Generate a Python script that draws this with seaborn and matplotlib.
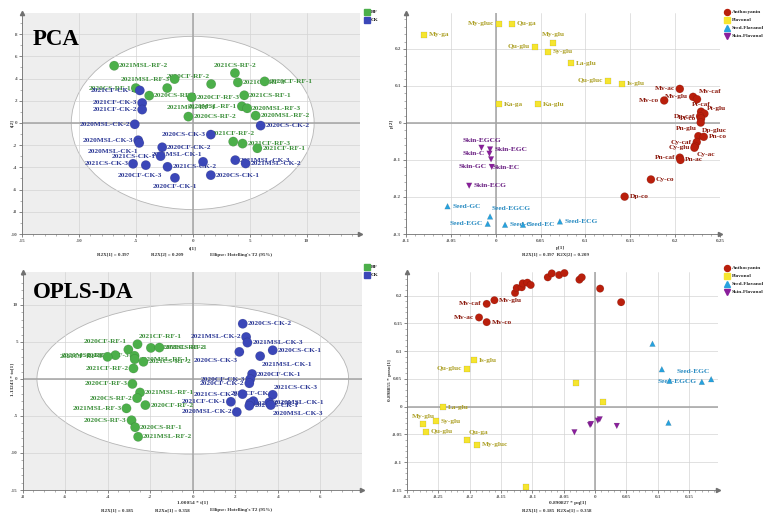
import numpy as np
import pandas as pd
import matplotlib
matplotlib.use("Agg")
import matplotlib.pyplot as plt
import seaborn as sns
from matplotlib.patches import Ellipse
from matplotlib.lines import Line2D
from matplotlib.ticker import MultipleLocator, FuncFormatter

# ======================= DATA =======================
# --- PCA scores (top-left) ---
pca_rf_names = ["2021MSL-RF-2", "2021CS-RF-2", "2021MSL-RF-3", "2020CF-RF-2", "2021CS-RF-3",
                "2020CF-RF-1", "2020CS-RF-1", "2021MSL-RF-1", "2020CS-RF-3", "2020CF-RF-3",
                "2021CS-RF-1", "2020MSL-RF-1", "2020MSL-RF-3", "2020MSL-RF-2", "2020CS-RF-2",
                "2021CF-RF-2", "2021CF-RF-3", "2021CF-RF-1"]
pca_rf_t1 = [-6.90, 3.71, -1.59, 1.62, 3.97, 6.32, -5.00, -2.24, -3.82, -0.09,
             4.53, 4.32, 4.79, 5.53, -0.38, 3.56, 4.38, 5.68]
pca_rf_t2 = [5.15, 4.49, 3.95, 3.50, 3.65, 3.74, 3.14, 3.14, 2.46, 2.31,
             2.49, 1.50, 1.32, 0.66, 0.57, -1.68, -1.86, -2.28]

pca_ck_names = ["2021CF-CK-1", "2021CF-CK-3", "2021CF-CK-2", "2020MSL-CK-2", "2020CS-CK-2",
                "2020CS-CK-3", "2020MSL-CK-3", "2020MSL-CK-1", "2020CF-CK-2", "2021CS-CK-1",
                "2021CS-CK-3", "2020CF-CK-3", "2021CS-CK-2", "2021MSL-CK-1", "2021MSL-CK-3",
                "2021MSL-CK-2", "2020CS-CK-1", "2020CF-CK-1"]
pca_ck_t1 = [-4.65, -4.44, -4.44, -5.09, 5.97, 1.59, -4.79, -4.70, -2.68, -2.82,
             -5.24, -4.12, -2.21, 0.91, 3.74, 4.65, 1.59, -1.56]
pca_ck_t2 = [2.93, 1.80, 1.20, -0.12, -0.24, -1.05, -1.56, -1.80, -2.19, -2.99,
             -3.68, -3.80, -3.95, -3.50, -3.35, -3.65, -4.70, -4.94]

# --- PCA loadings (top-right) ---
pca_anth_names = ["Mv-ac", "Mv-glu", "Mv-caf", "Mv-co", "Pt-caf", "Pt-glu", "Dp-caf", "Pt-co",
                  "Dp-gluc", "Pn-glu", "Pn-co", "Cy-caf", "Cy-ac", "Cy-glu", "Pn-caf", "Pn-ac",
                  "Cy-co", "Dp-co"]
pca_anth_p1 = [0.2052, 0.2200, 0.2244, 0.1878, 0.2289, 0.2326, 0.2278, 0.2289,
               0.2285, 0.2259, 0.2319, 0.2241, 0.2222, 0.2215, 0.2052, 0.2059,
               0.1730, 0.1437]
pca_anth_p2 = [0.0920, 0.0705, 0.0640, 0.0607, 0.0304, 0.0250, 0.0178, 0.0116,
               0.0010, -0.0357, -0.0375, -0.0518, -0.0625, -0.0670, -0.0938, -0.1000,
               -0.1527, -0.1991]

pca_flav_names = ["My-ga", "My-gluc", "Qu-ga", "My-glu", "Qu-glu", "Sy-glu", "La-glu",
                  "Qu-gluc", "Is-glu", "Ka-ga", "Ka-glu"]
pca_flav_p1 = [-0.0796, 0.0041, 0.0178, 0.0641, 0.0433, 0.0585, 0.0844, 0.1252, 0.1411, 0.0041, 0.0474]
pca_flav_p2 = [0.2384, 0.2679, 0.2679, 0.2170, 0.2063, 0.1920, 0.1607, 0.1134, 0.1063, 0.0509, 0.0509]

pca_seed_names = ["Seed-GC", "Seed-EGCG", "Seed-EGC", "Seed-C", "Seed-EC", "Seed-ECG"]
pca_seed_p1 = [-0.0537, -0.0063, -0.0089, 0.0104, 0.0304, 0.0715]
pca_seed_p2 = [-0.2250, -0.2527, -0.2723, -0.2750, -0.2750, -0.2661]

pca_skin_names = ["Skin-EGCG", "Skin-EGC", "Skin-C", "Skin-EC", "Skin-GC", "Skin-ECG"]
pca_skin_p1 = [-0.0159, -0.0063, -0.0070, -0.0052, -0.0044, -0.0296]
pca_skin_p2 = [-0.0670, -0.0714, -0.0830, -0.0982, -0.1187, -0.1696]

# --- OPLS-DA scores (bottom-left) ---
opls_rf_names = ["2021CF-RF-1", "2020CF-RF-1", "2020MSL-RF-2", "2021CS-RF-1", "2020MSL-RF-3",
                 "2021CF-RF-3", "2021CS-RF-3", "2020MSL-RF-1", "2021CS-RF-2", "2021CF-RF-2",
                 "2020CF-RF-3", "2021MSL-RF-1", "2020CS-RF-2", "2020CF-RF-2", "2021MSL-RF-3",
                 "2020CS-RF-3", "2020CS-RF-1", "2021MSL-RF-2"]
opls_rf_t1 = [-2.60, -3.03, -1.97, -1.57, -3.64, -4.01, -2.74, -2.73, -2.32, -2.79,
              -2.84, -2.48, -2.62, -2.23, -3.12, -2.88, -2.71, -2.57]
opls_rf_to = [4.69, 3.97, 4.20, 4.24, 3.21, 2.99, 3.13, 2.68, 2.32, 1.43,
              -0.67, -1.83, -2.59, -3.53, -3.97, -5.58, -6.52, -7.81]

opls_ck_names = ["2020CS-CK-2", "2021MSL-CK-2", "2021MSL-CK-3", "2020CS-CK-1", "2020CS-CK-3",
                 "2021MSL-CK-1", "2020CF-CK-1", "2020CF-CK-3", "2020CF-CK-2", "2021CS-CK-3",
                 "2021CS-CK-2", "2021CF-CK-2", "2021CF-CK-3", "2021CF-CK-1", "2020MSL-CK-2",
                 "2021CS-CK-1", "2020MSL-CK-1", "2020MSL-CK-3"]
opls_ck_t1 = [2.35, 2.51, 2.57, 3.76, 2.19, 3.17, 2.79, 2.70, 2.66, 3.76,
              2.34, 2.85, 2.70, 1.79, 2.07, 2.66, 3.60, 3.67]
opls_ck_to = [7.46, 5.67, 4.91, 3.88, 3.66, 3.08, 0.67, -0.04, -0.58, -2.14,
              -2.05, -2.99, -3.26, -3.08, -4.46, -3.62, -3.17, -3.53]

# --- OPLS-DA loadings (bottom-right) ---
opls_anth_names = ["Mv-caf", "Mv-glu", "Mv-ac", "Mv-co", "Pt-caf", "Pt-glu", "Dp-caf", "Pt-co",
                   "Dp-gluc", "Pn-glu", "Pn-co", "Cy-caf", "Cy-ac", "Cy-glu", "Pn-caf", "Pn-ac",
                   "Cy-co", "Dp-co"]
opls_anth_pq = [-0.1729, -0.1606, -0.1851, -0.1729, -0.1277, -0.1250, -0.1170, -0.1154,
                -0.1080, -0.1027, -0.0755, -0.0691, -0.0574, -0.0489, -0.0250, -0.0213,
                0.0080, 0.0415]
opls_anth_po = [0.1852, 0.1918, 0.1607, 0.1523, 0.2049, 0.2139, 0.2151, 0.2222,
                0.2234, 0.2192, 0.2330, 0.2401, 0.2372, 0.2407, 0.2288, 0.2330,
                0.2127, 0.1882]

opls_flav_names = ["Is-glu", "Qu-gluc", "La-glu", "My-glu", "Sy-glu", "Qu-glu", "Qu-ga",
                   "My-gluc", "My-ga", "Ka-ga", "Ka-glu"]
opls_flav_pq = [-0.1936, -0.2048, -0.2426, -0.2745, -0.2537, -0.2697, -0.2037, -0.1883,
                -0.0303, 0.0128, -0.1101]
opls_flav_po = [0.0836, 0.0687, -0.0012, -0.0311, -0.0263, -0.0454, -0.0597, -0.0687,
                0.0430, 0.0078, -0.1440]

opls_seed_names = ["Seed-GC", "Seed-C", "Seed-EC", "Seed-EGCG", "Seed-EGC", "Seed-ECG"]
opls_seed_pq = [0.0915, 0.1064, 0.1186, 0.1702, 0.1851, 0.1170]
opls_seed_po = [0.1135, 0.0675, 0.0466, 0.0448, 0.0496, -0.0287]

opls_skin_names = ["Skin-ECG", "Skin-C", "Skin-EGC", "Skin-EC", "Skin-GC", "Skin-EGCG"]
opls_skin_pq = [-0.0330, -0.0080, -0.0064, 0.0043, 0.0074, 0.0346]
opls_skin_po = [-0.0460, -0.0329, -0.0311, -0.0251, -0.0227, -0.0346]

classes = ["Anthocyanin", "Flavonol", "Seed-Flavanol", "Skin-Flavanol"]
groups = ["RF", "CK"]

# ======================= STYLE / LAYOUT =======================
# label placement codes (layout only)
pca_score_lab = {
    "2021MSL-RF-2": "r", "2021CS-RF-2": "a", "2021MSL-RF-3": "l", "2020CF-RF-2": "al",
    "2021CS-RF-3": "r", "2020CF-RF-1": "r", "2020CS-RF-1": "l", "2021MSL-RF-1": (17, -14, "center"),
    "2020CS-RF-3": "r", "2020CF-RF-3": "r", "2021CS-RF-1": "r", "2020MSL-RF-1": "l",
    "2020MSL-RF-3": "r", "2020MSL-RF-2": "r", "2020CS-RF-2": "r", "2021CF-RF-2": "a",
    "2021CF-RF-3": "r", "2021CF-RF-1": "r",
    "2021CF-CK-1": "l", "2021CF-CK-3": "l", "2021CF-CK-2": "l", "2020MSL-CK-2": "l",
    "2020CS-CK-2": "r", "2020CS-CK-3": "l", "2020MSL-CK-3": "l", "2020MSL-CK-1": "bl",
    "2020CF-CK-2": "r", "2021CS-CK-1": "l", "2021CS-CK-3": "l", "2020CF-CK-3": (12, -7.5, "right"),
    "2021CS-CK-2": "r", "2021MSL-CK-1": "al", "2021MSL-CK-3": "r", "2021MSL-CK-2": "r",
    "2020CS-CK-1": "r", "2020CF-CK-1": "b",
}
pca_load_lab = {
    "Mv-ac": "l", "Mv-glu": "l", "Mv-caf": "ar", "Mv-co": "l", "Pt-caf": "a", "Pt-glu": (2, 4, "left"),
    "Dp-caf": "l", "Pt-co": "l", "Dp-gluc": "br", "Pn-glu": "al", "Pn-co": "r", "Cy-caf": "l",
    "Cy-ac": "br", "Cy-glu": "l", "Pn-caf": "l", "Pn-ac": "r", "Cy-co": "r", "Dp-co": "r",
    "My-ga": "r", "My-gluc": "l", "Qu-ga": "r", "My-glu": "a", "Qu-glu": "l", "Sy-glu": "r",
    "La-glu": "r", "Qu-gluc": "l", "Is-glu": "r", "Ka-ga": "r", "Ka-glu": "r",
    "Seed-GC": "r", "Seed-EGCG": "ar", "Seed-EGC": "l", "Seed-C": "r", "Seed-EC": "r", "Seed-ECG": "r",
    "Skin-EGCG": "a", "Skin-EGC": "r", "Skin-C": "l", "Skin-EC": "br", "Skin-GC": "l", "Skin-ECG": "r",
}
opls_score_lab = {
    "2021CF-RF-1": "ar", "2020CF-RF-1": "al", "2020MSL-RF-2": "r", "2021CS-RF-1": "r",
    "2020MSL-RF-3": "l", "2021CF-RF-3": "l", "2021CS-RF-3": "l", "2020MSL-RF-1": "r",
    "2021CS-RF-2": "r", "2021CF-RF-2": "l", "2020CF-RF-3": "l", "2021MSL-RF-1": "r",
    "2020CS-RF-2": "l", "2020CF-RF-2": "r", "2021MSL-RF-3": "l", "2020CS-RF-3": "l",
    "2020CS-RF-1": "r", "2021MSL-RF-2": "r",
    "2020CS-CK-2": "r", "2021MSL-CK-2": "l", "2021MSL-CK-3": "r", "2020CS-CK-1": "r",
    "2020CS-CK-3": "bl", "2021MSL-CK-1": "br", "2020CF-CK-1": "r", "2020CF-CK-3": "l",
    "2020CF-CK-2": "l", "2021CS-CK-3": "ar", "2021CS-CK-2": "l", "2021CF-CK-2": "a",
    "2021CF-CK-3": "r", "2021CF-CK-1": "l", "2020MSL-CK-2": "l", "2021CS-CK-1": "r",
    "2020MSL-CK-1": "r", "2020MSL-CK-3": "br",
}
opls_load_lab = {
    "Mv-caf": "l", "Mv-glu": "r", "Mv-ac": "l", "Mv-co": "r",
    "Is-glu": "r", "Qu-gluc": "l", "La-glu": "r", "My-glu": "a", "Sy-glu": "r",
    "Qu-glu": "r", "Qu-ga": "ar", "My-gluc": "r",
    "Seed-EGCG": "l", "Seed-EGC": "al",
}

OFF = {"r": (3.5, 0, "left"), "l": (-3.5, 0, "right"), "a": (0, 5.5, "center"),
       "b": (0, -6, "center"), "ar": (1, 5.5, "left"), "al": (-1, 5.5, "right"),
       "br": (1, -6, "left"), "bl": (-1, -6, "right")}

GROUP_COL = {"RF": "#4caf4a", "CK": "#3b47b8"}
GROUP_TXT = {"RF": "#3c8f3a", "CK": "#2e3a96"}
CLS_COL = {"Anthocyanin": "#b91f0c", "Flavonol": "#f6e52f",
           "Seed-Flavanol": "#27a2de", "Skin-Flavanol": "#8a1e9c"}
CLS_TXT = {"Anthocyanin": "#8c1a0e", "Flavonol": "#aea22a",
           "Seed-Flavanol": "#2a8cc2", "Skin-Flavanol": "#6a1f82"}
CLS_MARK = {"Anthocyanin": "o", "Flavonol": "s", "Seed-Flavanol": "^", "Skin-Flavanol": "v"}

sns.set_theme(style="white")
plt.rcParams["font.family"] = ["Liberation Serif", "DejaVu Serif"]
plt.rcParams["font.weight"] = "bold"

W, H = 770, 519
fig = plt.figure(figsize=(W / 100, H / 100), dpi=100)
fig.patch.set_facecolor("white")


def rect(l, t, r, b):
    return [l / W, 1 - b / H, (r - l) / W, (b - t) / H]


def fx(x):
    return x / W


def fy(y):
    return 1 - y / H


def style_axes(ax, xlim, ylim, xmaj, ymaj, xmin, ymin, bg):
    ax.set_xlim(*xlim)
    ax.set_ylim(*ylim)
    ax.set_facecolor(bg)
    ax.xaxis.set_major_locator(MultipleLocator(xmaj))
    ax.yaxis.set_major_locator(MultipleLocator(ymaj))
    ax.xaxis.set_minor_locator(MultipleLocator(xmin))
    ax.yaxis.set_minor_locator(MultipleLocator(ymin))
    fmt = FuncFormatter(lambda v, p: "0" if abs(v) < 1e-9 else f"{v:g}")
    ax.xaxis.set_major_formatter(fmt)
    ax.yaxis.set_major_formatter(fmt)
    ax.grid(True, which="major", color="#d4d4d4", lw=0.5)
    ax.set_axisbelow(True)
    for s in ["top", "right"]:
        ax.spines[s].set_visible(False)
    for s in ["left", "bottom"]:
        ax.spines[s].set_color("#707070")
        ax.spines[s].set_linewidth(0.6)
    ax.tick_params(which="major", length=2, width=0.5, labelsize=3.6, pad=1.5,
                   colors="#555555", left=True, bottom=True)
    ax.tick_params(which="minor", length=1.1, width=0.4, colors="#777777", left=True, bottom=True)
    ax.axhline(0, color="#a3a3a3", lw=1.1, zorder=0.8)
    ax.axvline(0, color="#a3a3a3", lw=1.1, zorder=0.8)
    ax.plot(1, 0, marker=">", ms=3, color="#707070", transform=ax.transAxes, clip_on=False)
    ax.plot(0, 1, marker="^", ms=3, color="#707070", transform=ax.transAxes, clip_on=False)
    ax.set_xlabel("")
    ax.set_ylabel("")


def put_labels(ax, df, labmap, txtcol, key, fs):
    for _, row in df.iterrows():
        code = labmap.get(row["name"])
        if code is None:
            continue
        dx, dy, ha = OFF[code] if isinstance(code, str) else code
        ax.annotate(row["name"], (row["x"], row["y"]), xytext=(dx, dy),
                    textcoords="offset points", ha=ha, va="center", fontsize=fs,
                    color=txtcol[row[key]], fontweight="bold", zorder=2.5,
                    annotation_clip=False)


def score_df(rf_n, rf_x, rf_y, ck_n, ck_x, ck_y):
    return pd.DataFrame({"name": rf_n + ck_n, "x": rf_x + ck_x, "y": rf_y + ck_y,
                         "group": ["RF"] * len(rf_n) + ["CK"] * len(ck_n)})


def load_df(parts):
    frames = []
    for cls, (n, x, y) in zip(classes, parts):
        frames.append(pd.DataFrame({"name": n, "x": x, "y": y, "cls": [cls] * len(n)}))
    return pd.concat(frames, ignore_index=True)


def score_panel(r, df, xlim, ylim, xmaj, ymaj, xmin, ymin, ell, labmap, s):
    ax = fig.add_axes(r)
    style_axes(ax, xlim, ylim, xmaj, ymaj, xmin, ymin, "#eeeeee")
    ax.add_patch(Ellipse((0, 0), 2 * ell[0], 2 * ell[1], facecolor="white",
                         edgecolor="#b5b5b5", lw=0.6, zorder=0.3))
    sns.scatterplot(data=df, x="x", y="y", hue="group", palette=GROUP_COL, s=s,
                    edgecolor=(0, 0, 0, 0.2), linewidth=0.3, legend=False, ax=ax, zorder=3)
    put_labels(ax, df, labmap, GROUP_TXT, "group", 5.3)
    ax.set_xlabel("")
    ax.set_ylabel("")
    return ax


def load_panel(r, df, xlim, ylim, xmaj, ymaj, xmin, ymin, labmap, sizes):
    ax = fig.add_axes(r)
    style_axes(ax, xlim, ylim, xmaj, ymaj, xmin, ymin, "white")
    sns.scatterplot(data=df, x="x", y="y", hue="cls", style="cls", size="cls",
                    palette=CLS_COL, markers=CLS_MARK, sizes=sizes,
                    edgecolor=(0, 0, 0, 0.2), linewidth=0.3, legend=False, ax=ax, zorder=3)
    for c in ax.collections:
        c.set_clip_on(False)
    put_labels(ax, df, labmap, CLS_TXT, "cls", 5.3)
    ax.set_xlabel("")
    ax.set_ylabel("")
    return ax


def group_legend(x, y0):
    for i, g in enumerate(groups):
        yy = y0 + i * 8
        fig.add_artist(Line2D([fx(x)], [fy(yy)], marker="s", ms=4.2, color=GROUP_COL[g],
                              linestyle="none", transform=fig.transFigure))
        fig.text(fx(x + 4), fy(yy), g, fontsize=3.8, va="center", ha="left", color="#222222")


def class_legend(x, y0):
    for i, c in enumerate(classes):
        yy = y0 + i * 8
        fig.add_artist(Line2D([fx(x)], [fy(yy)], marker=CLS_MARK[c], ms=4.3, color=CLS_COL[c],
                              linestyle="none", transform=fig.transFigure))
        fig.text(fx(x + 4.5), fy(yy), c, fontsize=3.8, va="center", ha="left", color="#222222")


# ---------------- top-left: PCA scores ----------------
df_ps = score_df(pca_rf_names, pca_rf_t1, pca_rf_t2, pca_ck_names, pca_ck_t1, pca_ck_t2)
score_panel(rect(22, 13, 360, 234), df_ps, (-15, 14.7), (-10, 9.9), 5, 2, 1, 1,
            (10.67, 7.8), pca_score_lab, 46)
fig.text(fx(33), fy(45), "PCA", fontsize=16.5, fontweight="bold", color="black", va="baseline")
fig.text(fx(193), fy(248), "t[1]", fontsize=3.8, ha="center", va="center", color="#333")
fig.text(fx(12), fy(123), "t[2]", fontsize=3.8, ha="center", va="center", rotation=90, color="#333")
fig.text(fx(113), fy(255), "R2X[1] = 0.397", fontsize=3.6, ha="center", va="center", color="#333")
fig.text(fx(167), fy(255), "R2X[2] = 0.209", fontsize=3.6, ha="center", va="center", color="#333")
fig.text(fx(241), fy(255), "Ellipse: Hotelling's T2 (95%)", fontsize=3.6, ha="center", va="center", color="#333")
group_legend(367, 12)

# ---------------- top-right: PCA loadings ----------------
df_pl = load_df([(pca_anth_names, pca_anth_p1, pca_anth_p2),
                 (pca_flav_names, pca_flav_p1, pca_flav_p2),
                 (pca_seed_names, pca_seed_p1, pca_seed_p2),
                 (pca_skin_names, pca_skin_p1, pca_skin_p2)])
load_panel(rect(406, 13, 720, 234), df_pl, (-0.1, 0.25), (-0.3, 0.297), 0.05, 0.1, 0.01, 0.02,
           pca_load_lab, {"Anthocyanin": 34, "Flavonol": 19, "Seed-Flavanol": 17, "Skin-Flavanol": 17})
fig.text(fx(560), fy(248), "p[1]", fontsize=3.8, ha="center", va="center", color="#333")
fig.text(fx(392), fy(123), "p[2]", fontsize=3.8, ha="center", va="center", rotation=90, color="#333")
fig.text(fx(555), fy(255), "R2X[1] = 0.397  R2X[2] = 0.209", fontsize=3.6, ha="center", va="center", color="#333")
class_legend(727, 12)

# ---------------- bottom-left: OPLS-DA scores ----------------
df_os = score_df(opls_rf_names, opls_rf_t1, opls_rf_to, opls_ck_names, opls_ck_t1, opls_ck_to)
score_panel(rect(22.7, 272, 362, 490), df_os, (-8, 7.96), (-15, 14.45), 2, 5, 0.5, 1,
            (7.33, 10.15), opls_score_lab, 46)
fig.text(fx(33), fy(298), "OPLS-DA", fontsize=16.5, fontweight="bold", color="black", va="baseline")
fig.text(fx(193), fy(503), "1.00054 * t[1]", fontsize=3.8, ha="center", va="center", color="#333")
fig.text(fx(12), fy(380), "1.13243 * to[1]", fontsize=3.8, ha="center", va="center", rotation=90, color="#333")
fig.text(fx(117), fy(510), "R2X[1] = 0.185", fontsize=3.6, ha="center", va="center", color="#333")
fig.text(fx(172), fy(510), "R2Xo[1] = 0.358", fontsize=3.6, ha="center", va="center", color="#333")
fig.text(fx(241), fy(510), "Ellipse: Hotelling's T2 (95%)", fontsize=3.6, ha="center", va="center", color="#333")
group_legend(367, 267)

# ---------------- bottom-right: OPLS-DA loadings ----------------
df_ol = load_df([(opls_anth_names, opls_anth_pq, opls_anth_po),
                 (opls_flav_names, opls_flav_pq, opls_flav_po),
                 (opls_seed_names, opls_seed_pq, opls_seed_po),
                 (opls_skin_names, opls_skin_pq, opls_skin_po)])
load_panel(rect(407, 272, 718, 490), df_ol, (-0.3, 0.196), (-0.15, 0.2426), 0.05, 0.05, 0.01, 0.01,
           opls_load_lab, {"Anthocyanin": 30, "Flavonol": 19, "Seed-Flavanol": 17, "Skin-Flavanol": 17})
fig.text(fx(568), fy(503), "0.890827 * pq[1]", fontsize=3.8, ha="center", va="center", color="#333")
fig.text(fx(390), fy(380), "0.898855 * poso[1]", fontsize=3.8, ha="center", va="center", rotation=90, color="#333")
fig.text(fx(557), fy(510), "R2X[1] = 0.185  R2Xo[1] = 0.358", fontsize=3.6, ha="center", va="center", color="#333")
class_legend(727, 268)

fig.savefig("out.png", dpi=100, facecolor="white")
